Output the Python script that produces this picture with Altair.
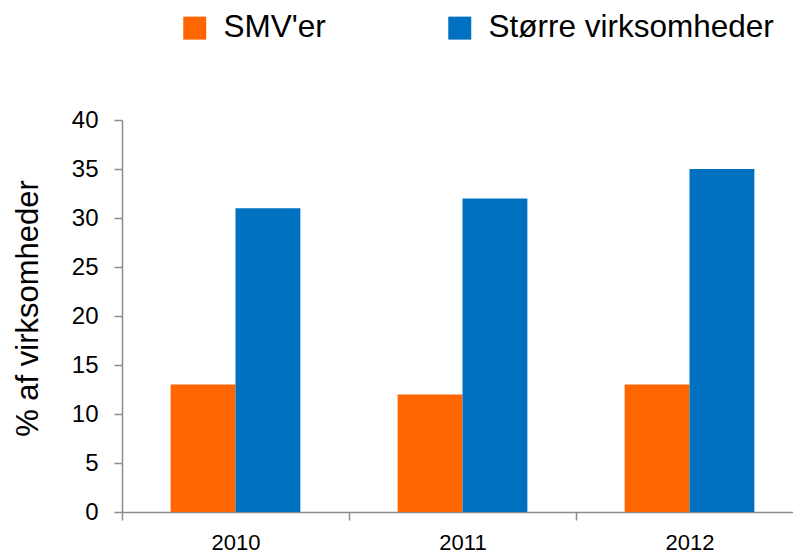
import altair as alt
import pandas as pd

years = ["2010", "2011", "2012"]
series = ["SMV'er", "Større virksomheder"]
smv = [13, 12, 13]
storre = [31, 32, 35]
colors = ["#FF6600", "#0070C0"]
y_ticks = [0, 5, 10, 15, 20, 25, 30, 35, 40]

rows = []
for i, yr in enumerate(years):
    rows.append({"year": yr, "series": series[0], "value": smv[i]})
    rows.append({"year": yr, "series": series[1], "value": storre[i]})
df = pd.DataFrame(rows)

FONT = "Liberation Sans"
GRAY = "#8C8C8C"

chart = alt.Chart(df).mark_bar().encode(
    x=alt.X("year:N", sort=years,
            scale=alt.Scale(paddingInner=0, paddingOuter=0, range=[0, 681]),
            axis=alt.Axis(title=None, labelAngle=0, labelFontSize=22, labelFont=FONT,
                          labelColor="black", labelPadding=12, tickBand="extent",
                          tickSize=8, tickColor=GRAY, domainColor=GRAY, domainWidth=1.5,
                          tickWidth=1.5, grid=False)),
    xOffset=alt.XOffset("series:N", sort=series,
                        scale=alt.Scale(paddingInner=0, paddingOuter=0.75)),
    y=alt.Y("value:Q", scale=alt.Scale(domain=[0, 40], nice=False),
            axis=alt.Axis(title="% af virksomheder", values=y_ticks, titleFontSize=31,
                          titleFont=FONT, titleFontWeight="normal", titleColor="black",
                          titlePadding=27, titleY=188, labelFontSize=24, labelFont=FONT,
                          labelColor="black", labelPadding=16, tickSize=8,
                          tickColor=GRAY, domainColor=GRAY, domainWidth=1.5,
                          tickWidth=1.5, grid=False)),
    color=alt.Color("series:N", sort=series,
                    scale=alt.Scale(domain=series, range=colors),
                    legend=alt.Legend(title=None, orient="none", direction="horizontal",
                                      legendX=57, legendY=-108, padding=0,
                                      symbolType="square", symbolSize=529,
                                      symbolStrokeWidth=0, symbolOpacity=1,
                                      labelFontSize=31.5, labelFont=FONT,
                                      labelColor="black", labelOffset=13,
                                      columnPadding=118, labelLimit=400)),
).properties(
    width=671,
    height=392,
    autosize=alt.AutoSizeParams(type="none"),
    padding={"left": 114, "top": 112, "right": 0, "bottom": 48},
).configure_view(stroke=None)

chart.save("out.html", embed_options={"renderer": "svg", "actions": False})
